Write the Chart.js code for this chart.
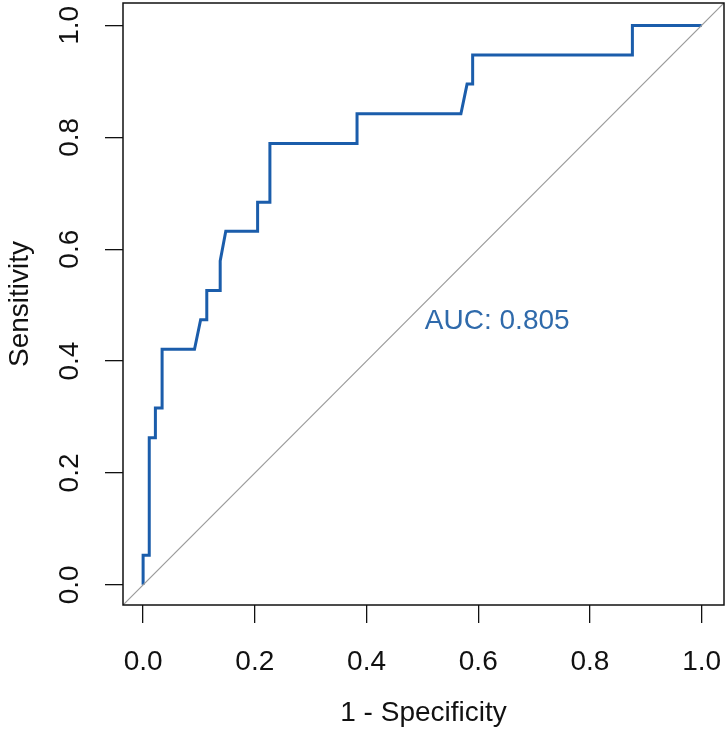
<!DOCTYPE html>
<html>
<head>
<meta charset="utf-8">
<script src="https://cdn.jsdelivr.net/npm/chart.js@4"></script>
<style>
  html, body { margin: 0; padding: 0; background: #fff; }
  canvas { display: block; }
</style>
</head>
<body>
<canvas id="roc" width="728" height="732"></canvas>
<script>
// ROC curve vertices: x = 1 - specificity, y = sensitivity
const fpr = [0, 0, 0.011, 0.011, 0.022, 0.022, 0.034, 0.034, 0.092, 0.103, 0.114, 0.114, 0.138, 0.138, 0.148, 0.205, 0.205, 0.227, 0.227, 0.383, 0.383, 0.569, 0.580, 0.590, 0.590, 0.876, 0.876, 1.0];
const tpr = [0, 0.053, 0.053, 0.263, 0.263, 0.316, 0.316, 0.421, 0.421, 0.474, 0.474, 0.526, 0.526, 0.579, 0.632, 0.632, 0.684, 0.684, 0.789, 0.789, 0.842, 0.842, 0.895, 0.895, 0.947, 0.947, 1.0, 1.0];

// chance line y = x
const diagX = [-0.1, 1.1];
const diagY = [-0.1, 1.1];

const tickValues = [0, 0.2, 0.4, 0.6, 0.8, 1.0];
const tickLabels = ["0.0", "0.2", "0.4", "0.6", "0.8", "1.0"];
const aucLabel = "AUC: 0.805";

const FONT = '28px "Liberation Sans", Arial, sans-serif';
const BLUE = "#1b5dab";

const textPlugin = {
  id: "rText",
  afterDraw(chart) {
    const ctx = chart.ctx;
    const a = chart.chartArea;
    const sx = chart.scales.x;
    const sy = chart.scales.y;
    ctx.save();
    // box
    ctx.strokeStyle = "#111";
    ctx.lineWidth = 1.5;
    ctx.strokeRect(a.left, a.top, a.right - a.left, a.bottom - a.top);

    ctx.font = FONT;
    ctx.fillStyle = "#111";
    ctx.textAlign = "center";
    ctx.textBaseline = "alphabetic";
    tickValues.forEach((v, i) => {
      ctx.fillText(tickLabels[i], sx.getPixelForValue(v), 670);
    });
    ctx.fillText("1 - Specificity", (a.left + a.right) / 2, 721);

    tickValues.forEach((v, i) => {
      ctx.save();
      ctx.translate(78, sy.getPixelForValue(v));
      ctx.rotate(-Math.PI / 2);
      ctx.fillText(tickLabels[i], 0, 0);
      ctx.restore();
    });
    ctx.save();
    ctx.translate(28, (a.top + a.bottom) / 2);
    ctx.rotate(-Math.PI / 2);
    ctx.fillText("Sensitivity", 0, 0);
    ctx.restore();

    // AUC label
    ctx.fillStyle = "#2f6aab";
    ctx.fillText(aucLabel, sx.getPixelForValue(0.634), sy.getPixelForValue(0.476) + 10);
    ctx.restore();
  }
};

const setTicks = (scale) => {
  scale.ticks = tickValues.map(v => ({ value: v }));
};

new Chart(document.getElementById("roc").getContext("2d"), {
  type: "scatter",
  data: {
    datasets: [
      {
        label: "chance",
        data: diagX.map((x, i) => ({ x: x, y: diagY[i] })),
        showLine: true,
        borderColor: "#9a9a9a",
        borderWidth: 1.2,
        pointRadius: 0,
        clip: 0
      },
      {
        label: "ROC",
        data: fpr.map((x, i) => ({ x: x, y: tpr[i] })),
        showLine: true,
        borderColor: BLUE,
        borderWidth: 3,
        pointRadius: 0,
        tension: 0,
        clip: 0
      }
    ]
  },
  options: {
    responsive: false,
    animation: false,
    layout: { padding: { top: 3, right: 4, left: 0, bottom: 0 } },
    plugins: {
      legend: { display: false },
      tooltip: { enabled: false }
    },
    scales: {
      x: {
        type: "linear",
        min: -0.036,
        max: 1.04,
        afterBuildTicks: setTicks,
        afterFit: (s) => { s.height = 127; },
        ticks: { display: false },
        border: { display: false },
        grid: { drawOnChartArea: false, drawTicks: true, tickLength: 18, color: "#111", lineWidth: 1.3 }
      },
      y: {
        type: "linear",
        min: -0.036,
        max: 1.04,
        afterBuildTicks: setTicks,
        afterFit: (s) => { s.width = 123; },
        ticks: { display: false },
        border: { display: false },
        grid: { drawOnChartArea: false, drawTicks: true, tickLength: 18, color: "#111", lineWidth: 1.3 }
      }
    }
  },
  plugins: [textPlugin]
});
</script>
</body>
</html>
